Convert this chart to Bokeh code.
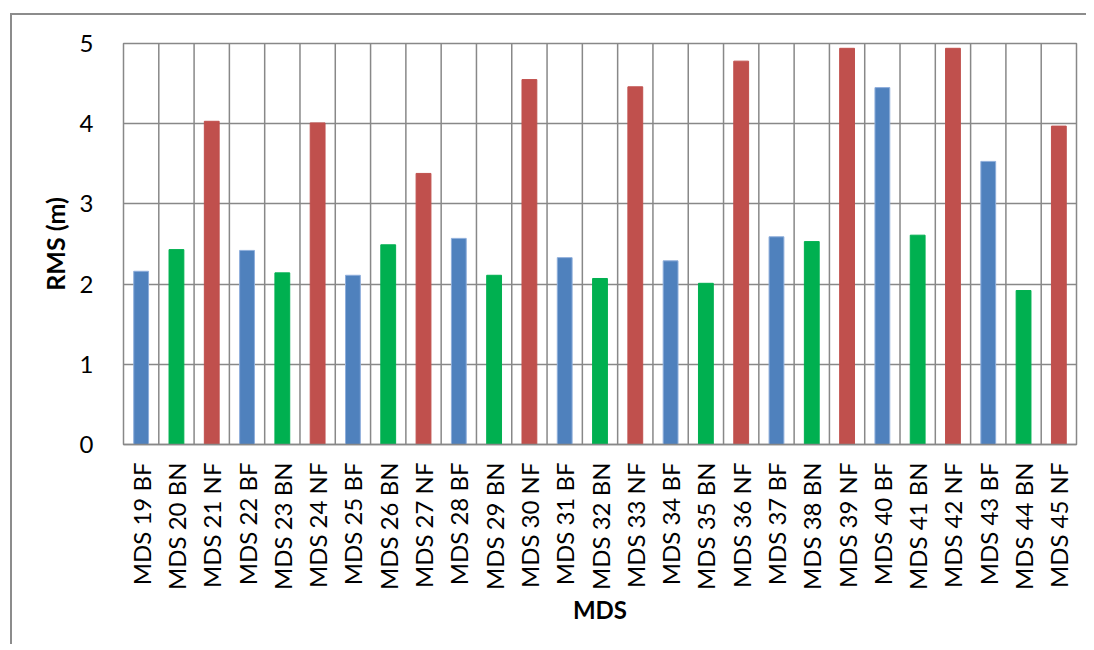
import math
from bokeh.plotting import figure
from bokeh.models import ColumnDataSource, Range1d, FactorRange, Span, FixedTicker
from bokeh.embed import file_html
from bokeh.resources import INLINE

categories = ["MDS 19 BF", "MDS 20 BN", "MDS 21 NF", "MDS 22 BF", "MDS 23 BN", "MDS 24 NF",
              "MDS 25 BF", "MDS 26 BN", "MDS 27 NF", "MDS 28 BF", "MDS 29 BN", "MDS 30 NF",
              "MDS 31 BF", "MDS 32 BN", "MDS 33 NF", "MDS 34 BF", "MDS 35 BN", "MDS 36 NF",
              "MDS 37 BF", "MDS 38 BN", "MDS 39 NF", "MDS 40 BF", "MDS 41 BN", "MDS 42 NF",
              "MDS 43 BF", "MDS 44 BN", "MDS 45 NF"]
rms = [2.16, 2.43, 4.03, 2.42, 2.14, 4.01,
       2.11, 2.49, 3.38, 2.57, 2.11, 4.55,
       2.33, 2.07, 4.46, 2.29, 2.01, 4.78,
       2.59, 2.53, 4.94, 4.45, 2.61, 4.94,
       3.53, 1.92, 3.97]
type_colors = {"BF": "#4F81BD", "BN": "#00B050", "NF": "#C0504D"}
type_edges = {"BF": "#8EAEDB", "BN": "#00B050", "NF": "#C0504D"}
y_ticks = [0, 1, 2, 3, 4, 5]

colors = [type_colors[c.split()[-1]] for c in categories]
edges = [type_edges[c.split()[-1]] for c in categories]
src = ColumnDataSource(dict(x=categories, y=rms, c=colors, e=edges))

FONT = "Lato"
GRID = "#888888"

p = figure(x_range=FactorRange(*categories), y_range=Range1d(0, 5),
           frame_width=953, frame_height=401, output_backend="svg", toolbar_location=None,
           min_border_left=111, min_border_right=10, min_border_top=28, min_border_bottom=200)
p.margin = (13, 0, 0, 10)
p.styles = {"border-top": "2px solid #8c8c8c", "border-left": "2px solid #8c8c8c"}

p.vbar(x="x", top="y", width=0.42, source=src, fill_color="c", line_color="e", line_width=1)

p.outline_line_color = GRID
p.outline_line_width = 1.5
p.ygrid.grid_line_color = GRID
p.ygrid.grid_line_width = 1.5
p.xgrid.visible = False
for i in range(1, len(categories)):
    p.add_layout(Span(location=i, dimension="height", line_color=GRID, line_width=1.5, level="underlay"))

p.yaxis.ticker = FixedTicker(ticks=y_ticks)
p.yaxis.axis_line_color = None
p.yaxis.major_tick_line_color = None
p.yaxis.minor_tick_line_color = None
p.yaxis.major_label_standoff = 24
p.yaxis.major_label_text_font = FONT
p.yaxis.major_label_text_font_size = "24px"
p.yaxis.major_label_text_color = "#000000"
p.yaxis.axis_label = "RMS (m)"
p.yaxis.axis_label_text_font = FONT
p.yaxis.axis_label_text_font_style = "bold"
p.yaxis.axis_label_text_font_size = "25px"
p.yaxis.axis_label_standoff = 7
p.yaxis.axis_label_text_color = "#000000"

p.xaxis.axis_line_color = GRID
p.xaxis.axis_line_width = 1.5
p.xaxis.major_tick_line_color = None
p.xaxis.major_label_orientation = math.pi / 2
p.xaxis.major_label_standoff = 12
p.xaxis.major_label_text_font = FONT
p.xaxis.major_label_text_font_size = "24px"
p.xaxis.major_label_text_color = "#000000"
p.xaxis.axis_label = "MDS"
p.xaxis.axis_label_text_font = FONT
p.xaxis.axis_label_text_font_style = "bold"
p.xaxis.axis_label_text_font_size = "24px"
p.xaxis.axis_label_standoff = 2
p.xaxis.axis_label_text_color = "#000000"

open("out.html", "w").write(file_html(p, INLINE))
